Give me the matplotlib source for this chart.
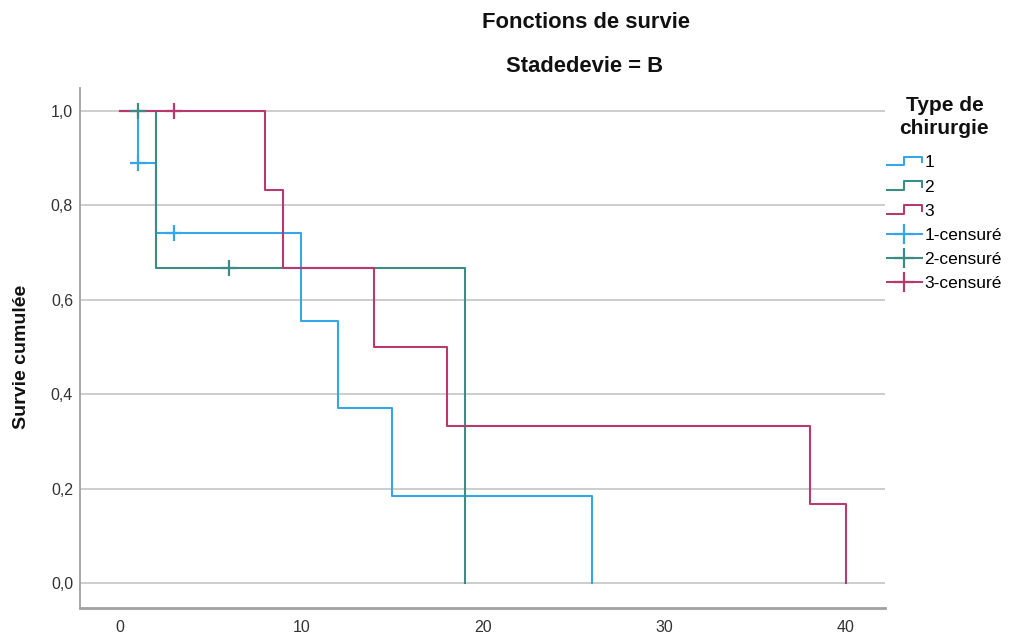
import matplotlib
matplotlib.use("Agg")
import matplotlib.pyplot as plt
from matplotlib.lines import Line2D
from matplotlib.legend_handler import HandlerBase

plt.rcParams['font.family'] = ['Liberation Sans', 'DejaVu Sans']

# ---- data ----
groups = ["1", "2", "3"]
colors = ["#35a6ea", "#3c8c86", "#b73a6e"]

t1 = [0, 1, 2, 10, 12, 15, 26]
s1 = [1.0, 0.889, 0.741, 0.556, 0.370, 0.185, 0.0]
t2 = [0, 2, 19]
s2 = [1.0, 0.667, 0.0]
t3 = [0, 8, 9, 14, 18, 38, 40]
s3 = [1.0, 0.833, 0.667, 0.5, 0.333, 0.167, 0.0]

c1_t = [1, 3]
c1_s = [0.889, 0.741]
c2_t = [1, 6]
c2_s = [1.0, 0.667]
c3_t = [3]
c3_s = [1.0]

xticks = [0, 10, 20, 30, 40]
yticks = [0.0, 0.2, 0.4, 0.6, 0.8, 1.0]
ytick_labels = ["0,0", "0,2", "0,4", "0,6", "0,8", "1,0"]

W, H = 1011, 637
fig = plt.figure(figsize=(W / 100, H / 100), dpi=100)
ax = fig.add_axes([80 / W, 1 - 608 / H, (885 - 80) / W, (608 - 88) / H])

ax.set_xlim(-2.2, 42.15)
ax.set_ylim(-0.053, 1.049)

for y in yticks:
    ax.axhline(y, color="#c9c9c9", lw=1.3, zorder=0)

lw = 1.5
steps = [(t1, s1), (t2, s2), (t3, s3)]
cens = [(c1_t, c1_s), (c2_t, c2_s), (c3_t, c3_s)]
for (t, s), col in zip(steps, colors):
    ax.step(t, s, where="post", color=col, lw=lw, zorder=3)
for (t, s), col in zip(cens, colors):
    ax.plot(t, s, linestyle="none", marker="+", markersize=11, mew=1.6,
            color=col, zorder=4)

ax.set_xticks(xticks)
ax.set_xticklabels([str(v) for v in xticks])
ax.set_yticks(yticks)
ax.set_yticklabels(ytick_labels)
ax.tick_params(axis="both", length=0, labelsize=11.5, labelcolor="#333333")
ax.tick_params(axis="y", pad=5)
ax.tick_params(axis="x", pad=9)

for sp in ["top", "right"]:
    ax.spines[sp].set_visible(False)
ax.spines["left"].set_color("#a0a0a0")
ax.spines["left"].set_linewidth(1.3)
ax.spines["bottom"].set_color("#a0a0a0")
ax.spines["bottom"].set_linewidth(2.0)

ax.set_ylabel("Survie cumulée", fontsize=14, fontweight="bold", color="#111111")
ax.yaxis.set_label_coords((30 - 80) / 805, (608 - 357) / 520)

fig.text(586 / W, 1 - 23 / H, "Fonctions de survie", ha="center", va="center",
         fontsize=15.8, fontweight="bold", color="#111111")
fig.text(585 / W, 1 - 67 / H, "Stadedevie = B", ha="center", va="center",
         fontsize=15.8, fontweight="bold", color="#111111")


class StepHandler(HandlerBase):
    def create_artists(self, legend, orig_handle, xdescent, ydescent, width,
                       height, fontsize, trans):
        x0 = -xdescent
        x1 = x0 + width
        xm = x0 + width * 0.5
        yb = -ydescent + height * 0.15
        yt = -ydescent + height * 0.85
        line = Line2D([x0, xm, xm, x1, x1], [yb, yb, yt, yt, yt - height * 0.45],
                      color=orig_handle.get_color(), lw=lw)
        line.set_transform(trans)
        return [line]


handles = []
labels = []
hmap = {}
for g, col in zip(groups, colors):
    h = Line2D([], [], color=col, lw=lw)
    handles.append(h)
    labels.append(g)
    hmap[h] = StepHandler()
for g, col in zip(groups, colors):
    h = Line2D([], [], color=col, lw=lw, marker="+", markersize=14, mew=1.6)
    handles.append(h)
    labels.append(g + "-censuré")

leg = fig.legend(handles, labels, handler_map=hmap, loc="upper left",
                 bbox_to_anchor=(887 / W, 1 - 96 / H), frameon=False,
                 title="Type de\nchirurgie", fontsize=12.5, numpoints=1,
                 handlelength=2.0, handletextpad=0.15, labelspacing=0.52,
                 borderpad=0, borderaxespad=0,
                 title_fontproperties={"weight": "bold", "size": 15})
leg.get_title().set_multialignment("center")
leg.get_title().set_linespacing(1.3)
leg.get_title().set_color("#111111")
leg._legend_box.sep = 12

fig.savefig("out.png", dpi=100)
